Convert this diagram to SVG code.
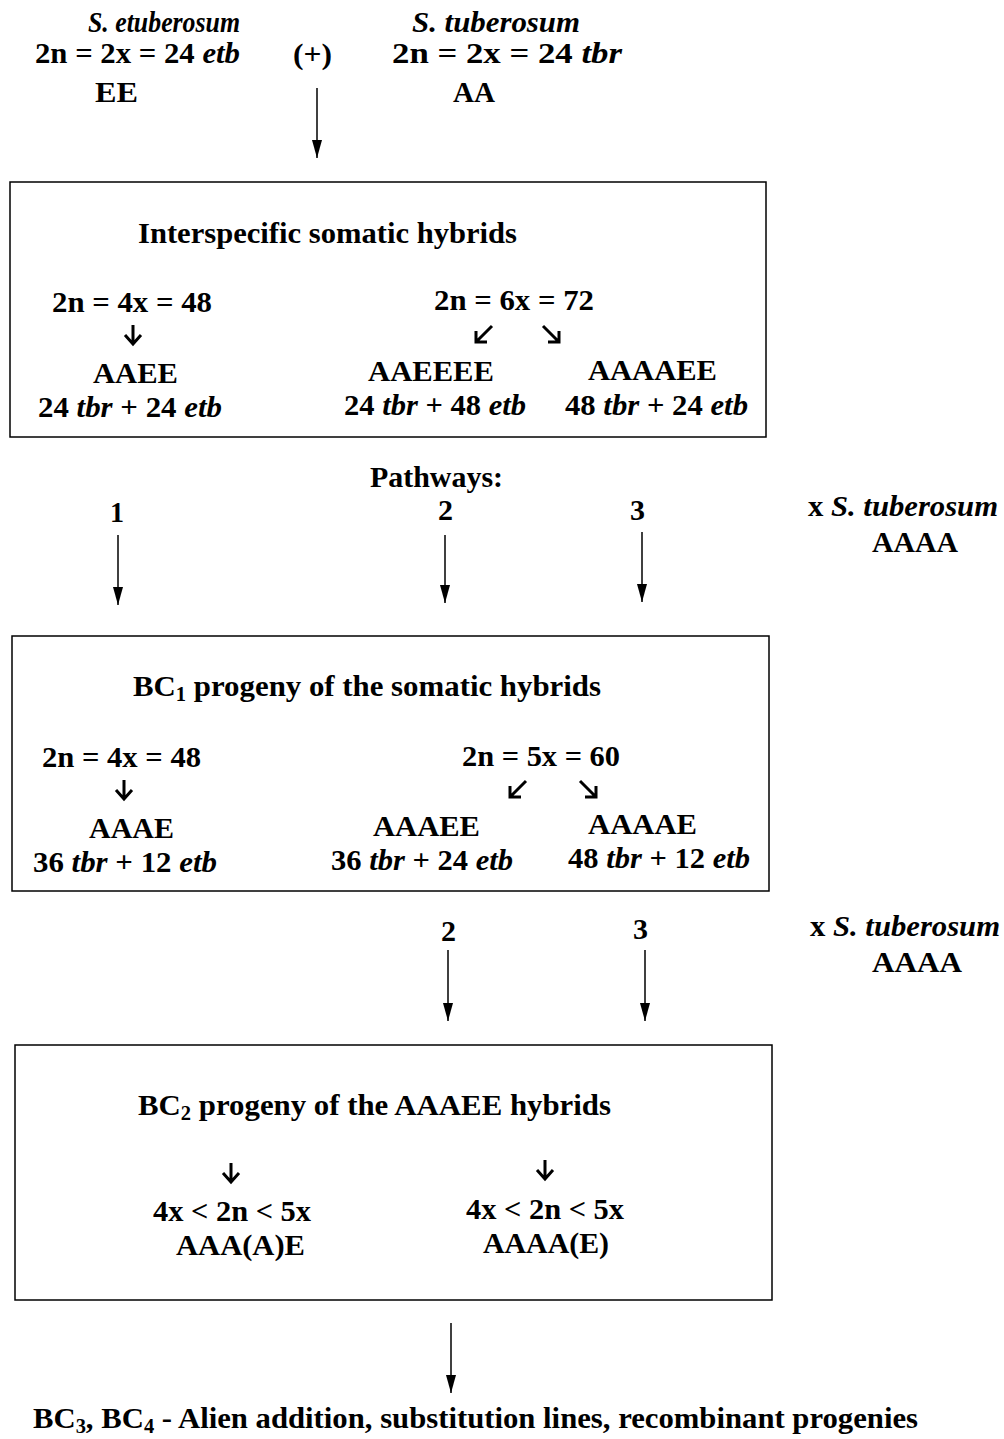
<svg xmlns="http://www.w3.org/2000/svg" width="1004" height="1439" viewBox="0 0 1004 1439">
<style>
text{font-family:"Liberation Serif","Times New Roman",serif;font-weight:bold;font-size:30px;fill:#000}
.i{font-style:italic}
.box{fill:none;stroke:#000;stroke-width:1.5}
.ln{stroke:#000;stroke-width:1.5;fill:none}
.sm{stroke:#000;stroke-width:3;fill:none;stroke-linecap:butt;stroke-linejoin:miter}
</style>
<defs>
<marker id="ah" viewBox="0 0 18 10" refX="18" refY="5" markerWidth="18" markerHeight="10" markerUnits="userSpaceOnUse" orient="auto">
<path d="M0,0 L18,5 L0,10 Z" fill="#000"/>
</marker>
</defs>
<rect width="1004" height="1439" fill="#fff"/>

<g id="parents">
<text class="i" x="88" y="32" textLength="152" lengthAdjust="spacingAndGlyphs">S. etuberosum</text>
<text x="35" y="63" textLength="205" lengthAdjust="spacingAndGlyphs">2n = 2x = 24 <tspan class="i">etb</tspan></text>
<text x="95" y="102" textLength="43" lengthAdjust="spacingAndGlyphs">EE</text>
<text x="293" y="64" textLength="39" lengthAdjust="spacingAndGlyphs">(+)</text>
<text class="i" x="412" y="32" textLength="168" lengthAdjust="spacingAndGlyphs">S. tuberosum</text>
<text x="392" y="63" textLength="230" lengthAdjust="spacingAndGlyphs">2n = 2x = 24 <tspan class="i">tbr</tspan></text>
<text x="453" y="102" textLength="42" lengthAdjust="spacingAndGlyphs">AA</text>
</g>

<g id="box1">
<rect class="box" x="10" y="182" width="756" height="255"/>
<text x="138" y="243" textLength="379" lengthAdjust="spacingAndGlyphs">Interspecific somatic hybrids</text>
<text x="52" y="312" textLength="160" lengthAdjust="spacingAndGlyphs">2n = 4x = 48</text>
<text x="93" y="383" textLength="85" lengthAdjust="spacingAndGlyphs">AAEE</text>
<text x="38" y="417" textLength="184" lengthAdjust="spacingAndGlyphs">24 <tspan class="i">tbr</tspan> + 24 <tspan class="i">etb</tspan></text>
<text x="434" y="310" textLength="160" lengthAdjust="spacingAndGlyphs">2n = 6x = 72</text>
<text x="368" y="381" textLength="126" lengthAdjust="spacingAndGlyphs">AAEEEE</text>
<text x="588" y="380" textLength="129" lengthAdjust="spacingAndGlyphs">AAAAEE</text>
<text x="344" y="415" textLength="182" lengthAdjust="spacingAndGlyphs">24 <tspan class="i">tbr</tspan> + 48 <tspan class="i">etb</tspan></text>
<text x="565" y="415" textLength="183" lengthAdjust="spacingAndGlyphs">48 <tspan class="i">tbr</tspan> + 24 <tspan class="i">etb</tspan></text>
</g>

<g id="pathways">
<text x="370" y="487" textLength="133" lengthAdjust="spacingAndGlyphs">Pathways:</text>
<text x="110" y="522" textLength="14" lengthAdjust="spacingAndGlyphs">1</text>
<text x="438" y="520" textLength="15" lengthAdjust="spacingAndGlyphs">2</text>
<text x="630" y="520" textLength="15" lengthAdjust="spacingAndGlyphs">3</text>
<text x="808" y="516" textLength="190" lengthAdjust="spacingAndGlyphs">x <tspan class="i">S. tuberosum</tspan></text>
<text x="872" y="552" textLength="86" lengthAdjust="spacingAndGlyphs">AAAA</text>
</g>

<g id="box2">
<rect class="box" x="12" y="636" width="757" height="255"/>
<text x="133" y="696" textLength="468" lengthAdjust="spacingAndGlyphs">BC<tspan font-size="20" dy="5">1</tspan><tspan dy="-5"> progeny of the somatic hybrids</tspan></text>
<text x="42" y="767" textLength="159" lengthAdjust="spacingAndGlyphs">2n = 4x = 48</text>
<text x="89" y="838" textLength="85" lengthAdjust="spacingAndGlyphs">AAAE</text>
<text x="33" y="872" textLength="184" lengthAdjust="spacingAndGlyphs">36 <tspan class="i">tbr</tspan> + 12 <tspan class="i">etb</tspan></text>
<text x="462" y="766" textLength="158" lengthAdjust="spacingAndGlyphs">2n = 5x = 60</text>
<text x="373" y="836" textLength="107" lengthAdjust="spacingAndGlyphs">AAAEE</text>
<text x="588" y="834" textLength="109" lengthAdjust="spacingAndGlyphs">AAAAE</text>
<text x="331" y="870" textLength="182" lengthAdjust="spacingAndGlyphs">36 <tspan class="i">tbr</tspan> + 24 <tspan class="i">etb</tspan></text>
<text x="568" y="868" textLength="182" lengthAdjust="spacingAndGlyphs">48 <tspan class="i">tbr</tspan> + 12 <tspan class="i">etb</tspan></text>
</g>

<g id="cross2">
<text x="441" y="941" textLength="15" lengthAdjust="spacingAndGlyphs">2</text>
<text x="633" y="939" textLength="15" lengthAdjust="spacingAndGlyphs">3</text>
<text x="810" y="936" textLength="190" lengthAdjust="spacingAndGlyphs">x <tspan class="i">S. tuberosum</tspan></text>
<text x="872" y="972" textLength="90" lengthAdjust="spacingAndGlyphs">AAAA</text>
</g>

<g id="box3">
<rect class="box" x="15" y="1045" width="757" height="255"/>
<text x="138" y="1115" textLength="473" lengthAdjust="spacingAndGlyphs">BC<tspan font-size="20" dy="5">2</tspan><tspan dy="-5"> progeny of the AAAEE hybrids</tspan></text>
<text x="153" y="1221" textLength="158" lengthAdjust="spacingAndGlyphs">4x &lt; 2n &lt; 5x</text>
<text x="176" y="1255" textLength="129" lengthAdjust="spacingAndGlyphs">AAA(A)E</text>
<text x="466" y="1219" textLength="158" lengthAdjust="spacingAndGlyphs">4x &lt; 2n &lt; 5x</text>
<text x="483" y="1253" textLength="126" lengthAdjust="spacingAndGlyphs">AAAA(E)</text>
</g>

<g id="result">
<text x="33" y="1428" textLength="885" lengthAdjust="spacingAndGlyphs">BC<tspan font-size="20" dy="5">3</tspan><tspan dy="-5">, BC</tspan><tspan font-size="20" dy="5">4</tspan><tspan dy="-5"> - Alien addition, substitution lines, recombinant progenies</tspan></text>
</g>

<g id="connectors">
<line class="ln" x1="317" y1="88" x2="317" y2="158" marker-end="url(#ah)"/>
<line class="ln" x1="118" y1="535" x2="118" y2="605" marker-end="url(#ah)"/>
<line class="ln" x1="445" y1="535" x2="445" y2="603" marker-end="url(#ah)"/>
<line class="ln" x1="642" y1="532" x2="642" y2="602" marker-end="url(#ah)"/>
<line class="ln" x1="448" y1="950" x2="448" y2="1021" marker-end="url(#ah)"/>
<line class="ln" x1="645" y1="950" x2="645" y2="1021" marker-end="url(#ah)"/>
<line class="ln" x1="451" y1="1323" x2="451" y2="1393" marker-end="url(#ah)"/>
<path class="sm" d="M133,325 V344 M125,335 L133,344 L141,335"/>
<path class="sm" d="M492,326 L476,342 M476,331 V342 H487"/>
<path class="sm" d="M543,326 L559,342 M559,331 V342 H548"/>
<path class="sm" d="M124,780 V799 M116,790 L124,799 L132,790"/>
<path class="sm" d="M526,781 L510,797 M510,786 V797 H521"/>
<path class="sm" d="M580,781 L596,797 M596,786 V797 H585"/>
<path class="sm" d="M231,1163 V1182 M223,1173 L231,1182 L239,1173"/>
<path class="sm" d="M545,1160 V1179 M537,1170 L545,1179 L553,1170"/>
</g>
</svg>
